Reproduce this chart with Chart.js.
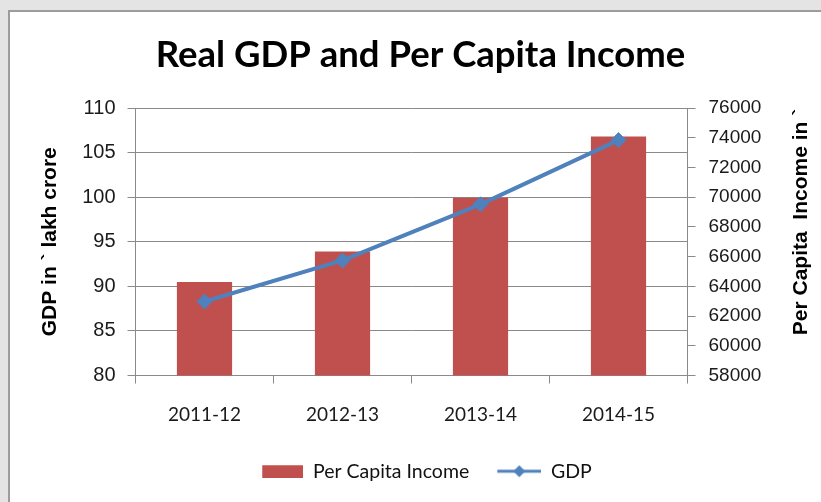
<!DOCTYPE html>
<html>
<head>
<meta charset="utf-8">
<script src="https://cdn.jsdelivr.net/npm/chart.js@4"></script>
<style>
  html, body { margin: 0; padding: 0; width: 821px; height: 502px; overflow: hidden; background: #e4e4e4; }
  #frame { position: absolute; left: 8px; top: 10px; width: 820px; height: 500px; background: #fff; border: 2px solid #9c9c9c; box-sizing: border-box; }
  #wrap { position: absolute; left: 0; top: 0; width: 821px; height: 502px; }
</style>
</head>
<body>
<div id="frame"></div>
<div id="wrap"><canvas id="c" width="821" height="502"></canvas></div>
<script>
const categories = ['2011-12', '2012-13', '2013-14', '2014-15'];
const perCapitaIncome = [64300, 66340, 69960, 74080];
const gdp = [88.3, 92.9, 99.2, 106.4];
const gdpTicks = [80, 85, 90, 95, 100, 105, 110];
const incomeTicks = [58000, 60000, 62000, 64000, 66000, 68000, 70000, 72000, 74000, 76000];

const BAR_COLOR = '#C0504D';
const LINE_COLOR = '#4F81BD';
const GRID = '#8a8a8a';
const LEGEND_SHIFT = 6;
const TITLE_SHIFT = 10;

function makeBarImg() {
  const c = document.createElement('canvas');
  c.width = 62; c.height = 14;
  const x = c.getContext('2d');
  x.fillStyle = BAR_COLOR;
  x.fillRect(21, 1, 41, 13);
  return c;
}
function makeLineImg() {
  const c = document.createElement('canvas');
  c.width = 62; c.height = 16;
  const x = c.getContext('2d');
  x.strokeStyle = LINE_COLOR;
  x.lineWidth = 3;
  x.beginPath(); x.moveTo(18, 8); x.lineTo(62, 8); x.stroke();
  x.fillStyle = LINE_COLOR;
  x.beginPath(); x.moveTo(40 - 6, 8); x.lineTo(40, 2); x.lineTo(40 + 6, 8); x.lineTo(40, 14); x.closePath(); x.fill();
  return c;
}
const barImg = makeBarImg();
const lineImg = makeLineImg();

const rightTitle = {
  id: 'rightTitle',
  afterDraw(chart) {
    const ctx = chart.ctx;
    ctx.save();
    ctx.translate(801.5, 222);
    ctx.rotate(-Math.PI / 2);
    ctx.font = 'bold 21px "Liberation Sans", Arial, sans-serif';
    ctx.fillStyle = '#000';
    ctx.textAlign = 'center';
    ctx.textBaseline = 'middle';
    ctx.fillText('Per Capita  Income in `', 0, 0);
    ctx.restore();
  }
};
const boxShift = {
  id: 'boxShift',
  afterLayout(chart) {
    chart.legend.left += LEGEND_SHIFT;
    chart.legend.right += LEGEND_SHIFT;
    chart.titleBlock.left += TITLE_SHIFT;
    chart.titleBlock.right += TITLE_SHIFT;
  }
};

new Chart(document.getElementById('c'), {
  type: 'bar',
  data: {
    labels: categories,
    datasets: [
      {
        type: 'bar',
        label: 'Per Capita Income',
        data: perCapitaIncome,
        backgroundColor: BAR_COLOR,
        yAxisID: 'y1',
        categoryPercentage: 1,
        barPercentage: 0.4,
        order: 2
      },
      {
        type: 'line',
        label: 'GDP',
        data: gdp,
        borderColor: LINE_COLOR,
        backgroundColor: LINE_COLOR,
        borderWidth: 4,
        pointStyle: 'rectRot',
        pointRadius: 7.5,
        pointBorderWidth: 1,
        tension: 0,
        yAxisID: 'y',
        order: 1
      }
    ]
  },
  options: {
    responsive: false,
    animation: false,
    layout: { padding: { left: 0, right: 0, top: 0, bottom: 11 } },
    plugins: {
      tooltip: { enabled: false },
      title: {
        display: true,
        text: 'Real GDP and Per Capita Income',
        color: '#000',
        font: { family: 'Lato, sans-serif', size: 36.5, weight: 'bold', lineHeight: 1.2 },
        padding: { top: 33.1, bottom: 31.1 }
      },
      legend: {
        position: 'bottom',
        labels: {
          usePointStyle: true,
          pointStyleWidth: 62,
          padding: 10,
          color: '#111',
          font: { family: 'Lato, sans-serif', size: 19.5 },
          generateLabels(chart) {
            return chart.data.datasets.map((ds, i) => ({
              text: ds.label,
              pointStyle: i === 0 ? barImg : lineImg,
              fillStyle: ds.backgroundColor,
              strokeStyle: ds.borderColor || ds.backgroundColor,
              lineWidth: 0,
              hidden: false,
              datasetIndex: i,
              fontColor: '#111'
            }));
          }
        }
      }
    },
    scales: {
      x: {
        offset: true,
        grid: { offset: true, drawOnChartArea: false, drawTicks: true, tickLength: 8, color: GRID },
        border: { display: true, color: GRID, width: 1 },
        ticks: { color: '#1a1a1a', padding: 19.5, font: { family: 'Lato, sans-serif', size: 19 } },
        afterFit(s) { s.height = 76; }
      },
      y: {
        position: 'left',
        min: 80, max: 110,
        afterBuildTicks(s) { s.ticks = gdpTicks.map(v => ({ value: v })); },
        grid: { drawOnChartArea: true, drawTicks: true, tickLength: 8, color: GRID },
        border: { display: true, color: GRID, width: 1 },
        ticks: { color: '#1a1a1a', padding: 12, font: { family: '"Liberation Sans", Arial, sans-serif', size: 20 } },
        title: {
          display: true,
          text: 'GDP in ` lakh crore',
          color: '#000',
          font: { family: '"Liberation Sans", Arial, sans-serif', size: 21, weight: 'bold', lineHeight: 1.2 },
          padding: { top: 37.4, bottom: 0 }
        },
        afterFit(s) { s.width = 135.5; }
      },
      y1: {
        position: 'right',
        min: 58000, max: 76000,
        afterBuildTicks(s) { s.ticks = incomeTicks.map(v => ({ value: v })); },
        grid: { drawOnChartArea: false, drawTicks: true, tickLength: 8, color: GRID },
        border: { display: true, color: GRID, width: 1 },
        ticks: {
          color: '#1a1a1a', padding: 13,
          font: { family: '"Liberation Sans", Arial, sans-serif', size: 19 },
          callback: (v) => String(v)
        },
        afterFit(s) { s.width = 133.5; }
      }
    }
  },
  plugins: [rightTitle, boxShift]
});
</script>
</body>
</html>
